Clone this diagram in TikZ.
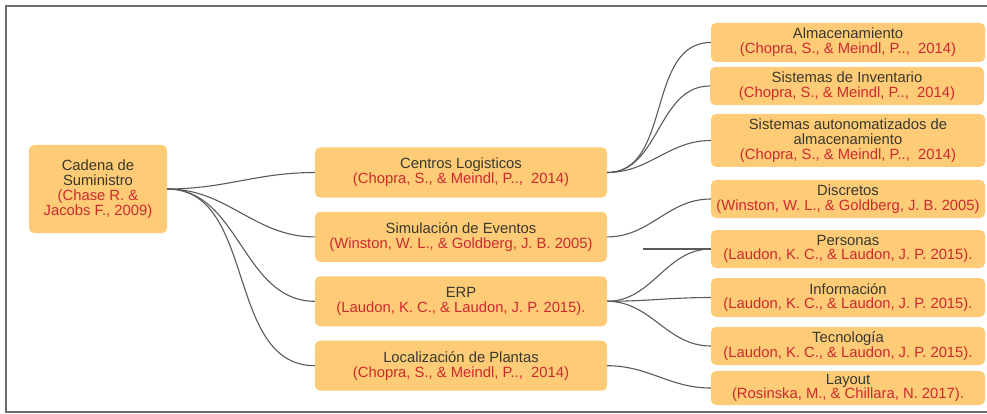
\documentclass[tikz,border=0pt]{standalone}
\usepackage{fontspec}
\setmainfont{Liberation Sans}
\usepackage{xcolor}
\usetikzlibrary{positioning}

\definecolor{boxorange}{RGB}{254,203,118}
\definecolor{titlegray}{RGB}{58,56,46}
\definecolor{citered}{RGB}{205,42,48}
\definecolor{linkgray}{RGB}{90,90,90}
\definecolor{framegray}{RGB}{110,110,110}

\begin{document}
\begin{tikzpicture}[x=1pt, y=-1pt]
    \tikzset{
        block/.style={rectangle, fill=boxorange, rounded corners=5pt, inner sep=2pt, align=center, text=titlegray, font=\fontsize{14.8}{14.8}\selectfont},
        root/.style={block, minimum width=138pt, minimum height=88pt},
        branch/.style={block, minimum width=292pt, minimum height=50pt},
        leaf/.style={block, minimum width=274pt, minimum height=38pt},
        link/.style={draw, line width=1.1pt, linkgray, out=0, in=180}
    }
    \useasboundingbox (0,0) rectangle (987,414);
    \draw [framegray, line width=2pt] (995,6) -- (6,6) -- (6,412) -- (995,412);

    \node (Cadena) [root] at (98,189) {Cadena de\\Suministro\\{\color{citered}(Chase R. \&}\\{\color{citered}Jacobs F., 2009)}};

    \node (Centros) [branch] at (461,172.5) {Centros Logisticos\\{\color{citered}(Chopra, S., \& Meindl, P..,\ \ 2014)}};
    \node (Simulacion) [branch, below=14pt of Centros] {Simulación de Eventos\\{\color{citered}(Winston, W. L., \& Goldberg, J. B. 2005)}};
    \node (ERP) [branch, below=14pt of Simulacion] {ERP\\{\color{citered}(Laudon, K. C., \& Laudon, J. P. 2015).}};
    \node (Localizacion) [branch, below=14pt of ERP] {Localización de Plantas\\{\color{citered}(Chopra, S., \& Meindl, P..,\ \ 2014)}};

    \node (Almacen) [leaf, minimum height=39pt] at (848,42.5) {Almacenamiento\\{\color{citered}(Chopra, S., \& Meindl, P..,\ \ 2014)}};
    \node (Inventario) [leaf] at (847,86) {Sistemas de Inventario\\{\color{citered}(Chopra, S., \& Meindl, P..,\ \ 2014)}};
    \node (Autonom) [leaf, minimum height=53pt] at (848,140.5) {Sistemas autonomatizados de\\almacenamiento\\{\color{citered}(Chopra, S., \& Meindl, P..,\ \ 2014)}};
    \node (Discretos) [leaf] at (848,199) {Discretos\\{\color{citered}(Winston, W. L., \& Goldberg, J. B. 2005)}};
    \node (Personas) [leaf] at (848,249) {Personas\\{\color{citered}(Laudon, K. C., \& Laudon, J. P. 2015).}};
    \node (Informacion) [leaf, minimum height=39pt] at (848,297.5) {Información\\{\color{citered}(Laudon, K. C., \& Laudon, J. P. 2015).}};
    \node (Tecnologia) [leaf] at (848,346) {Tecnología\\{\color{citered}(Laudon, K. C., \& Laudon, J. P. 2015).}};
    \node (Layout) [leaf, minimum height=34pt] at (848,388) {Layout\\{\color{citered}(Rosinska, M., \& Chillara, N. 2017).}};

    \coordinate (Stray) at (643,249);

    % root to branches
    \path [link] (Cadena.east) to (Centros.west);
    \path [link] (Cadena.east) to (Simulacion.west);
    \path [link] (Cadena.east) to (ERP.west);
    \path [link] (Cadena.east) to (Localizacion.west);

    % branches to leaves
    \path [link] (Centros.east) to (Almacen.west);
    \path [link] (Centros.east) to (Inventario.west);
    \path [link] (Centros.east) to (Autonom.west);
    \path [link] (Simulacion.east) to (Discretos.west);
    \path [link] (ERP.east) to (Personas.west);
    \path [link] (ERP.east) to (Informacion.west);
    \path [link] (ERP.east) to (Tecnologia.west);
    \path [link] (Localizacion.east) to (Layout.west);
    \path [link] (Stray) -- (Personas.west);

\end{tikzpicture}
\end{document}
